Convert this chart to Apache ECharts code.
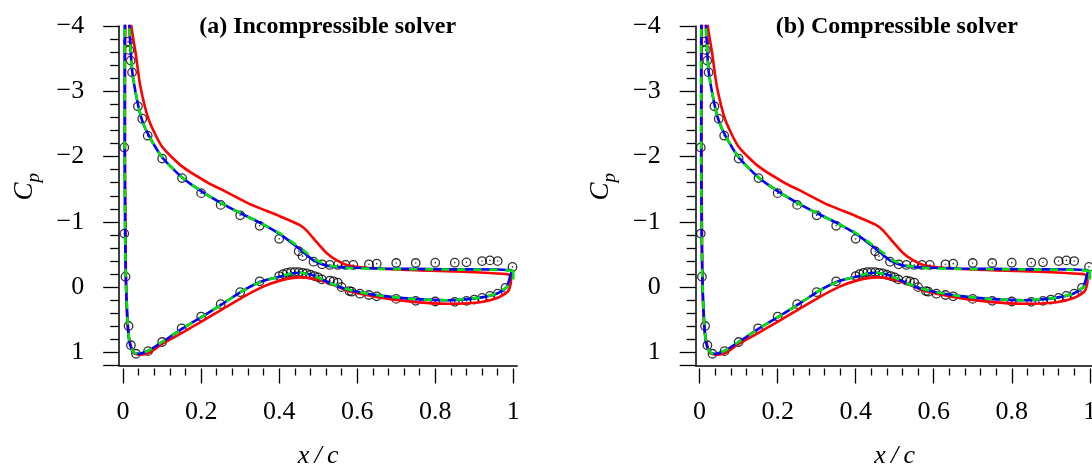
<!DOCTYPE html>
<html>
<head>
<meta charset="utf-8">
<script src="https://cdn.jsdelivr.net/npm/echarts@6/dist/echarts.min.js"></script>
<style>
  html, body { margin: 0; padding: 0; background: #fff; }
  #cp-chart { width: 1092px; height: 467px; }
</style>
</head>
<body>
<div id="cp-chart"></div>
<script>
  // x/c and Cp (both panels show the same curves)
  const panelTitles = ['(a) Incompressible solver', '(b) Compressible solver']
  const xTickLabels = ['0', '0.2', '0.4', '0.6', '0.8', '1']

  // experiment (circles)
  const expUpper = [
    [0.0128, -3.76], [0.016, -3.63], [0.0195, -3.47], [0.023, -3.29], [0.038, -2.77],
    [0.049, -2.58], [0.063, -2.32], [0.10, -1.97], [0.151, -1.67], [0.20, -1.44],
    [0.25, -1.26], [0.30, -1.10], [0.35, -0.94], [0.40, -0.74], [0.45, -0.55],
    [0.46, -0.475], [0.488, -0.39], [0.51, -0.35], [0.53, -0.34], [0.55, -0.34],
    [0.57, -0.34], [0.59, -0.34], [0.63, -0.35], [0.65, -0.36], [0.70, -0.37],
    [0.75, -0.37], [0.80, -0.375], [0.85, -0.375], [0.88, -0.38], [0.92, -0.40],
    [0.94, -0.41], [0.96, -0.40], [0.998, -0.31]
  ]
  const expNose = [
    [0.003, -2.14], [0.003, -0.82], [0.006, -0.16], [0.014, 0.595], [0.02, 0.89], [0.033, 1.02]
  ]
  const expLower = [
    [0.064, 0.98], [0.10, 0.84], [0.15, 0.63], [0.20, 0.45], [0.25, 0.26], [0.30, 0.077],
    [0.35, -0.09], [0.40, -0.17], [0.41, -0.20], [0.42, -0.22], [0.43, -0.23], [0.44, -0.23],
    [0.45, -0.23], [0.46, -0.22], [0.47, -0.21], [0.48, -0.19], [0.49, -0.17], [0.50, -0.15],
    [0.509, -0.12], [0.53, -0.10], [0.539, -0.09], [0.55, -0.07], [0.56, 0.0], [0.58, 0.06],
    [0.586, 0.07], [0.607, 0.10], [0.63, 0.12], [0.65, 0.14], [0.70, 0.18], [0.75, 0.21],
    [0.80, 0.22], [0.85, 0.225], [0.88, 0.21], [0.90, 0.19], [0.92, 0.165], [0.94, 0.135],
    [0.96, 0.10], [0.98, 0.01]
  ]

  // red solid: from TE along upper side, round the nose, back along lower side
  const redCurve = [
    [0.994, -0.18], [0.983, -0.20], [0.915, -0.225], [0.83, -0.245], [0.70, -0.27],
    [0.616, -0.30], [0.573, -0.34], [0.548, -0.41], [0.522, -0.52], [0.496, -0.69],
    [0.47, -0.87], [0.453, -0.95], [0.40, -1.09], [0.322, -1.28], [0.254, -1.49],
    [0.22, -1.59], [0.151, -1.85], [0.10, -2.15], [0.066, -2.56], [0.044, -3.08],
    [0.032, -3.59], [0.021, -4.0], [0.015, -4.6], [0.011, -5.2], [0.007, -4.6],
    [0.005, -3.5], [0.005, -2.0], [0.006, -1.0], [0.007, -0.3], [0.009, 0.3],
    [0.013, 0.68], [0.019, 0.88], [0.027, 1.01], [0.044, 1.035], [0.066, 1.01],
    [0.10, 0.87], [0.151, 0.70], [0.203, 0.52], [0.254, 0.34], [0.305, 0.16],
    [0.356, 0.0], [0.402, -0.10], [0.453, -0.15], [0.488, -0.13], [0.53, -0.06],
    [0.573, 0.05], [0.66, 0.16], [0.744, 0.225], [0.83, 0.255], [0.915, 0.23],
    [0.957, 0.17], [0.986, 0.07], [0.994, -0.08], [0.994, -0.18]
  ]

  // blue solid
  const blueCurve = [
    [0.997, -0.26], [0.96, -0.27], [0.83, -0.275], [0.66, -0.285], [0.573, -0.30],
    [0.522, -0.33], [0.488, -0.41], [0.463, -0.53], [0.445, -0.62], [0.40, -0.82],
    [0.356, -0.97], [0.305, -1.12], [0.254, -1.28], [0.203, -1.46], [0.151, -1.68],
    [0.10, -1.99], [0.066, -2.32], [0.049, -2.55], [0.036, -2.86], [0.023, -3.32],
    [0.016, -4.0], [0.012, -4.6], [0.008, -5.0], [0.005, -4.6], [0.004, -3.5],
    [0.004, -2.0], [0.005, -1.0], [0.006, -0.4], [0.008, 0.06], [0.012, 0.57],
    [0.016, 0.83], [0.022, 0.95], [0.03, 1.01], [0.04, 1.02], [0.066, 0.97],
    [0.10, 0.84], [0.151, 0.64], [0.203, 0.45], [0.254, 0.26], [0.305, 0.06],
    [0.356, -0.09], [0.402, -0.16], [0.43, -0.21], [0.453, -0.22], [0.488, -0.18],
    [0.513, -0.11], [0.556, 0.0], [0.60, 0.07], [0.66, 0.13], [0.744, 0.18],
    [0.83, 0.20], [0.915, 0.16], [0.957, 0.10], [0.983, 0.0], [0.994, -0.21],
    [0.997, -0.26]
  ]

  // green dashed
  const greenCurve = [
    [1.0, -0.25], [0.96, -0.265], [0.83, -0.27], [0.66, -0.28], [0.573, -0.295],
    [0.522, -0.34], [0.488, -0.44], [0.463, -0.56], [0.445, -0.64], [0.40, -0.83],
    [0.356, -0.97], [0.305, -1.12], [0.254, -1.28], [0.203, -1.46], [0.151, -1.68],
    [0.10, -1.99], [0.066, -2.32], [0.049, -2.55], [0.036, -2.86], [0.023, -3.33],
    [0.016, -4.0], [0.012, -4.6], [0.008, -5.0], [0.005, -4.6], [0.004, -3.5],
    [0.004, -2.0], [0.005, -1.0], [0.006, -0.4], [0.008, 0.06], [0.012, 0.57],
    [0.016, 0.83], [0.022, 0.95], [0.03, 1.01], [0.04, 1.02], [0.066, 0.97],
    [0.10, 0.84], [0.151, 0.64], [0.203, 0.45], [0.254, 0.26], [0.305, 0.06],
    [0.356, -0.09], [0.402, -0.16], [0.43, -0.21], [0.453, -0.22], [0.488, -0.18],
    [0.513, -0.11], [0.556, 0.0], [0.60, 0.07], [0.66, 0.13], [0.744, 0.18],
    [0.83, 0.20], [0.915, 0.16], [0.957, 0.10], [0.983, 0.0], [1.0, -0.1],
    [1.0, -0.25]
  ]

  const serif = 'Liberation Serif, Times New Roman, serif'
  const panelLeft = [119.2, 695.7]
  const expAll = expUpper.concat(expNose, expLower)

  const grid = []
  const xAxis = []
  const yAxis = []
  const title = []
  const series = []

  panelLeft.forEach((left, p) => {
    // data grid (axis lines, y ticks)
    grid.push({ left: left, top: 26, width: 398, height: 339.5, outerBoundsMode: 'none' })
    // x tick grid, spans exactly 0..1
    grid.push({ left: left + 3.9, top: 26, width: 390.2, height: 339.5, outerBoundsMode: 'none' })

    xAxis.push({
      gridIndex: 2 * p,
      type: 'value',
      min: -0.01,
      max: 1.01,
      axisLine: { show: true, onZero: false, lineStyle: { color: '#000', width: 1.5 } },
      axisTick: { show: false },
      axisLabel: { show: false },
      splitLine: { show: false }
    })
    xAxis.push({
      gridIndex: 2 * p + 1,
      type: 'value',
      min: 0,
      max: 1,
      interval: 0.2,
      offset: 3,
      name: 'x\u2009/\u2009c',
      nameLocation: 'middle',
      nameGap: 75,
      nameTextStyle: { fontFamily: serif, fontStyle: 'italic', fontSize: 26, color: '#000' },
      axisLine: { show: false, onZero: false },
      axisTick: { show: true, length: 15, lineStyle: { color: '#000', width: 1.3 } },
      minorTick: { show: true, splitNumber: 5, length: 7, lineStyle: { color: '#000', width: 1.3 } },
      axisLabel: {
        margin: 31,
        fontFamily: serif,
        fontSize: 26,
        color: '#000',
        formatter: (v) => xTickLabels[Math.round(v / 0.2)]
      },
      splitLine: { show: false }
    })

    yAxis.push({
      gridIndex: 2 * p,
      type: 'value',
      min: -4,
      max: 1.2,
      interval: 1,
      inverse: true,
      name: '{c|C}{s|p}',
      nameLocation: 'middle',
      nameRotate: 90,
      nameGap: 76,
      nameTextStyle: {
        padding: [0, 0, 0, 18],
        rich: {
          c: { fontFamily: serif, fontStyle: 'italic', fontSize: 27, color: '#000', padding: [0, 0, 5, 0] },
          s: { fontFamily: serif, fontStyle: 'italic', fontSize: 19, color: '#000', verticalAlign: 'bottom' }
        }
      },
      axisLine: { show: true, onZero: false, lineStyle: { color: '#000', width: 1.5 } },
      axisTick: { show: true, length: 16, lineStyle: { color: '#000', width: 1.3 } },
      minorTick: { show: true, splitNumber: 5, length: 9, lineStyle: { color: '#000', width: 1.3 } },
      axisLabel: {
        margin: 35,
        fontFamily: serif,
        fontSize: 26,
        color: '#000',
        formatter: (v) => (Math.abs(v - Math.round(v)) > 1e-6 ? '' : String(v).replace('-', '\u2212'))
      },
      splitLine: { show: false }
    })
    yAxis.push({ gridIndex: 2 * p + 1, type: 'value', min: -4, max: 1.2, inverse: true, show: false })

    title.push({
      text: panelTitles[p],
      left: left + 80,
      top: 15,
      padding: 0,
      textStyle: { fontFamily: serif, fontWeight: 'bold', fontSize: 24, color: '#000' }
    })

    const lineBase = {
      type: 'line',
      xAxisIndex: 2 * p,
      yAxisIndex: 2 * p,
      symbol: 'none',
      smooth: 0.2,
      clip: true
    }
    series.push(Object.assign({}, lineBase, {
      name: 'red', data: redCurve, lineStyle: { color: '#ff0000', width: 2.6 }
    }))
    series.push(Object.assign({}, lineBase, {
      name: 'blue', data: blueCurve, lineStyle: { color: '#0000ff', width: 2.6 }
    }))
    series.push(Object.assign({}, lineBase, {
      name: 'green', data: greenCurve, lineStyle: { color: '#00e600', width: 2.6, type: [8, 8] }
    }))
    series.push({
      type: 'scatter',
      xAxisIndex: 2 * p,
      yAxisIndex: 2 * p,
      data: expAll,
      symbol: 'circle',
      symbolSize: 8.5,
      itemStyle: { color: 'rgba(0,0,0,0)', borderColor: '#000', borderWidth: 1.3 }
    })
    series.push({
      type: 'scatter',
      xAxisIndex: 2 * p,
      yAxisIndex: 2 * p,
      data: expAll,
      symbol: 'circle',
      symbolSize: 1.6,
      itemStyle: { color: '#000' }
    })
  })

  const chart = echarts.init(document.getElementById('cp-chart'))
  chart.setOption({
    animation: false,
    backgroundColor: '#fff',
    title: title,
    grid: grid,
    xAxis: xAxis,
    yAxis: yAxis,
    series: series
  })
</script>
</body>
</html>
